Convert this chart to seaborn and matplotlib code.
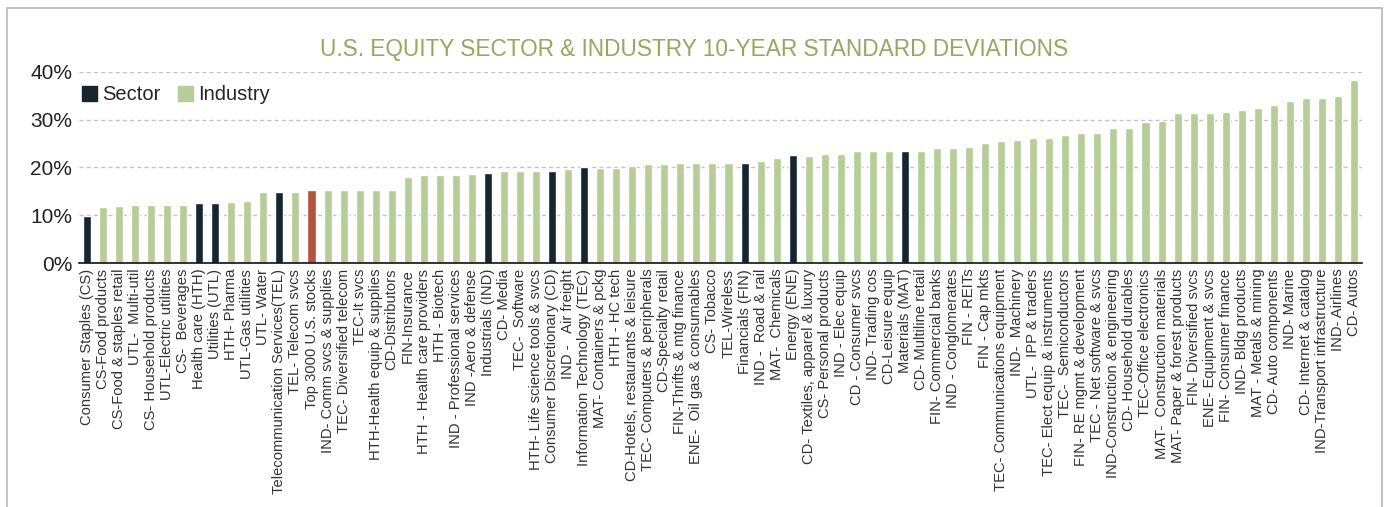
"""U.S. equity sector & industry 10-year standard deviations."""

import matplotlib
matplotlib.use("Agg")
import matplotlib.pyplot as plt
import pandas as pd
import seaborn as sns
from matplotlib.lines import Line2D
from matplotlib.patches import Patch

labels = [
    "Consumer Staples (CS)", "CS-Food products", "CS-Food & staples retail", "UTL-  Multi-util",
    "CS- Household products", "UTL-Electric utilities", "CS-  Beverages", "Health care (HTH)",
    "Utilities (UTL)", "HTH- Pharma", "UTL-Gas utilities", "UTL- Water",
    "Telecommunication Services(TEL)", "TEL- Telecom svcs", "Top 3000 U.S. stocks",
    "IND- Comm svcs & supplies", "TEC- Diversified telecom", "TEC-It svcs",
    "HTH-Health equip & supplies", "CD-Distributors", "FIN-Insurance",
    "HTH - Health care providers", "HTH - Biotech", "IND - Professional services",
    "IND -Aero & defense", "Industrials (IND)", "CD- Media", "TEC-  Software",
    "HTH- Life science tools & svcs", "Consumer Discretionary (CD)", "IND -   Air freight",
    "Information Technology (TEC)", "MAT- Containers & pckg", "HTH - HC tech",
    "CD-Hotels, restaurants & leisure", "TEC- Computers & peripherals", "CD-Specialty retail",
    "FIN-Thrifts & mtg finance", "ENE-  Oil gas & consumables", "CS- Tobacco", "TEL-Wireless",
    "Financials (FIN)", "IND -  Road & rail", "MAT-  Chemicals", "Energy (ENE)",
    "CD- Textiles, apparel & luxury", "CS- Personal products", "IND - Elec equip",
    "CD - Consumer svcs", "IND- Trading cos", "CD-Leisure equip", "Materials (MAT)",
    "CD- Multiline retail", "FIN- Commercial banks", "IND - Conglomerates", "FIN - REITs",
    "FIN - Cap mkts", "TEC- Communications equipment", "IND-  Machinery", "UTL-  IPP & traders",
    "TEC- Elect equip & instruments", "TEC-  Semiconductors", "FIN- RE mgmt & development",
    "TEC - Net software & svcs", "IND-Construction & engineering", "CD- Household durables",
    "TEC-Office electronics", "MAT-  Construction materials", "MAT- Paper & forest products",
    "FIN- Diversified svcs", "ENE- Equipment & svcs", "FIN- Consumer finance",
    "IND- Bldg products", "MAT - Metals & mining", "CD- Auto components", "IND- Marine",
    "CD- Internet & catalog", "IND-Transport infrastructure", "IND- Airlines", "CD- Autos",
]

std_dev = [
    9.8, 11.7, 11.9, 12.2, 12.2, 12.2, 12.2, 12.5, 12.5, 12.8, 13.1, 14.9,
    14.9, 14.9, 15.2, 15.2, 15.4, 15.4, 15.4, 15.4, 18.1, 18.4, 18.4, 18.4,
    18.6, 18.8, 19.2, 19.2, 19.2, 19.3, 19.6, 20.0, 19.8, 19.8, 20.4, 20.7,
    20.7, 21.0, 21.0, 21.0, 21.0, 21.0, 21.3, 21.9, 22.6, 22.5, 22.8, 22.8,
    23.4, 23.4, 23.4, 23.5, 23.4, 24.0, 24.0, 24.3, 25.2, 25.5, 25.8, 26.1,
    26.1, 26.7, 27.1, 27.1, 28.2, 28.2, 29.4, 29.7, 31.4, 31.4, 31.4, 31.6,
    31.9, 32.4, 33.0, 33.8, 34.6, 34.6, 35.0, 38.2,
]

sector_labels = [
    "Consumer Staples (CS)", "Health care (HTH)", "Utilities (UTL)",
    "Telecommunication Services(TEL)", "Industrials (IND)", "Consumer Discretionary (CD)",
    "Information Technology (TEC)", "Financials (FIN)", "Energy (ENE)", "Materials (MAT)",
]
market_label = "Top 3000 U.S. stocks"

colors = {"Sector": "#14262f", "Industry": "#b5cd97", "Market": "#b4533c"}
title_color = "#98a65f"


def kind_of(name):
    if name == market_label:
        return "Market"
    if name in sector_labels:
        return "Sector"
    return "Industry"


df = pd.DataFrame({"label": labels, "std": std_dev})
df["kind"] = df["label"].map(kind_of)

sns.set_style("white")
plt.rcParams["font.family"] = ["Liberation Sans", "DejaVu Sans"]

fig = plt.figure(figsize=(13.85, 5.07), dpi=100)
ax = fig.add_axes([0.057, 0.4807, 0.9264, 0.3779])

sns.barplot(
    data=df, x="label", y="std", hue="kind", order=labels,
    palette=colors, dodge=False, width=0.5, legend=False, ax=ax, saturation=1,
)

ax.set_xlim(-0.5, len(labels) - 0.5)
ax.set_ylim(0, 40)
ax.set_yticks([0, 10, 20, 30, 40])
ax.set_yticklabels([f"{v}%" for v in [0, 10, 20, 30, 40]])
ax.set_xlabel("")
ax.set_ylabel("")
ax.tick_params(axis="y", length=0, pad=5, labelsize=15, labelcolor="#222222")
ax.tick_params(axis="x", length=0, pad=4, labelsize=10.6, labelcolor="#333333")
plt.setp(ax.get_xticklabels(), rotation=90)

for v in [10, 20, 30, 40]:
    ax.axhline(v, color="#c4c4c4", lw=1.0, linestyle=(0, (3, 2.2)), zorder=0)

for side in ["top", "right", "left"]:
    ax.spines[side].set_visible(False)
ax.spines["bottom"].set_color("#111111")
ax.spines["bottom"].set_linewidth(1.2)

handles = [Patch(color=colors["Sector"], label="Sector"),
           Patch(color=colors["Industry"], label="Industry")]
ax.legend(handles=handles, loc="upper left", bbox_to_anchor=(0.002, 0.928), ncol=2,
          frameon=False, fontsize=14.5, handlelength=0.75, handleheight=0.75,
          handletextpad=0.25, columnspacing=0.9, borderaxespad=0, borderpad=0)

fig.text(0.5014, 0.8895, "U.S. EQUITY SECTOR & INDUSTRY 10-YEAR STANDARD DEVIATIONS",
         ha="center", va="baseline", fontsize=16.3, color=title_color)

# light frame around the figure, open at the bottom
frame_kw = dict(transform=fig.transFigure, color="#bdbdbd", lw=1.3)
fig.add_artist(Line2D([0.0051, 0.0051], [0.0, 0.9852], **frame_kw))
fig.add_artist(Line2D([0.9975, 0.9975], [0.0, 0.9852], **frame_kw))
fig.add_artist(Line2D([0.0051, 0.9975], [0.9852, 0.9852], **frame_kw))

fig.savefig("out.png", dpi=100)
plt.close(fig)
